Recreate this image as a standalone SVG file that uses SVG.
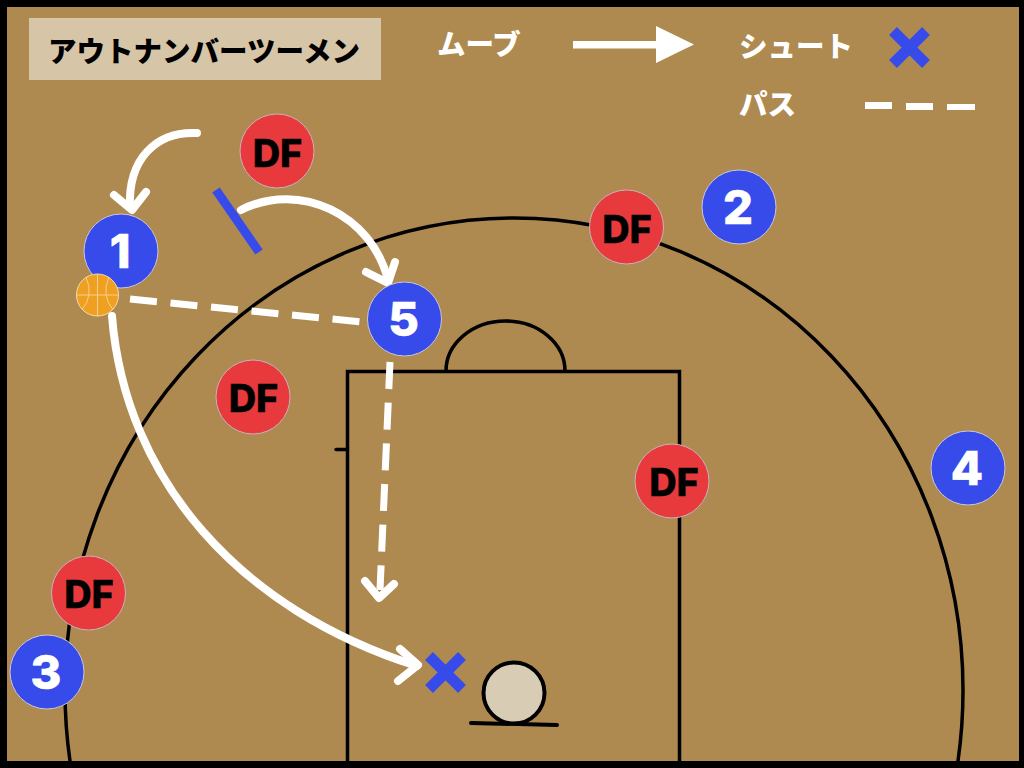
<svg xmlns="http://www.w3.org/2000/svg" width="1024" height="768" viewBox="0 0 1024 768">
<style>
.court{fill:none;stroke:#000;stroke-width:3.500;stroke-linecap:round}
.move{fill:none;stroke:#fff;stroke-width:8;stroke-linecap:round;stroke-linejoin:round}
.pass{fill:none;stroke:#fff;stroke-width:7;stroke-dasharray:27 13.700}
.off{fill:#374beb;stroke:#c9c6d8;stroke-width:1}
.def{fill:#e83a3c;stroke:#c9b0c0;stroke-width:1}
.num{font-family:Inter,"Liberation Sans",sans-serif;font-weight:800;font-size:47px;fill:#fff;stroke:#fff;stroke-width:.6;text-anchor:middle}
.df{font-family:Inter,"Liberation Sans",sans-serif;font-weight:800;font-size:38px;fill:#000;stroke:#000;stroke-width:.4;text-anchor:middle}
.jp{font-family:"Noto Sans CJK JP",sans-serif;font-weight:900;font-size:28.500px;fill:#fff}
.x{stroke:#374beb;stroke-width:11;fill:none}
.seam{fill:none;stroke:#f3dcae;stroke-width:.8}
</style>
<rect width="1024" height="768" fill="#000"/>
<rect x="7" y="7" width="1012" height="754" fill="#af8a50"/>
<g id="court">
<path class="court" d="M70 761A449 472 0 0 1 65 690A449 472 0 0 1 963 690A449 472 0 0 1 958 761"/>
<path class="court" d="M347.500 761V371.500H679.500V761"/>
<path class="court" d="M446 371A59.500 50 0 0 1 565 371"/>
<path class="court" d="M336 449.500H347"/>
<ellipse cx="514" cy="693" rx="30.500" ry="30.500" fill="#d9ccb4" stroke="#000" stroke-width="4"/>
<path class="court" d="M471 723L557 725" style="stroke-width:4"/>
</g>
<g id="title">
<rect x="29" y="18" width="352" height="62" fill="#d6c5a6"/>
<text x="204" y="62" text-anchor="middle" font-family="Noto Sans CJK JP,sans-serif" font-weight="900" font-size="28.500" fill="#000">アウトナンバーツーメン</text>
</g>
<g id="legend">
<text class="jp" x="437" y="55">ムーブ</text>
<path d="M573 41H656V26L694 44.500L656 63V48.500H573Z" fill="#fff"/>
<text class="jp" x="739" y="57">シュート</text>
<path class="x" d="M893 31L926 64M926 31L893 64"/>
<text class="jp" x="739" y="115">パス</text>
<path d="M865 102H892V109H865ZM906 103H933V110H906ZM947 104H975V110H947Z" fill="#fff"/>
</g>
<g id="connectors">
<path class="move" d="M197 133C155 131 128 160 130 207"/>
<path class="move" d="M114 195L132 210L146 192"/>
<path class="move" d="M241 210C300 180 372 215 388 280"/>
<path class="move" d="M366 272L388 283L395 262"/>
<path class="pass" d="M390 362L380 590"/>
<path class="pass" d="M130 299L363 322"/>
<path class="move" d="M365 581L379 598L394 584"/>
<path class="move" d="M112 316C125 480 240 610 417 666"/>
<path class="move" d="M400 649L418 665L398 681"/>
<path d="M216 190L259 252" stroke="#374beb" stroke-width="9" fill="none"/>
<path class="x" d="M429 656L462 689M462 656L429 689"/>
</g>
<g id="node-df1"><circle class="def" cx="277" cy="151" r="37"/><text class="df" x="277.500" y="167">DF</text></g>
<g id="node-df2"><circle class="def" cx="626.500" cy="227" r="37"/><text class="df" x="627" y="243">DF</text></g>
<g id="node-df3"><circle class="def" cx="253" cy="397" r="37"/><text class="df" x="253.500" y="412">DF</text></g>
<g id="node-df4"><circle class="def" cx="672" cy="481" r="37"/><text class="df" x="674" y="496">DF</text></g>
<g id="node-df5"><circle class="def" cx="88.500" cy="593" r="37"/><text class="df" x="89" y="608">DF</text></g>
<g id="node-1"><circle class="off" cx="121" cy="251" r="37"/><text class="num" x="120" y="268">1</text></g>
<g id="node-2"><circle class="off" cx="739" cy="207" r="37"/><text class="num" x="738" y="224">2</text></g>
<g id="node-3"><circle class="off" cx="47" cy="672" r="37"/><text class="num" x="46" y="689">3</text></g>
<g id="node-4"><circle class="off" cx="968" cy="468" r="37"/><text class="num" x="967" y="485">4</text></g>
<g id="node-5"><circle class="off" cx="404.500" cy="319" r="37"/><text class="num" x="403.500" y="336">5</text></g>
<g id="ball">
<circle cx="97.500" cy="295" r="21" fill="#f0a020" stroke="#f3dcae" stroke-width="1"/>
<path class="seam" d="M76.500 295H118.500M97.500 274V316M86 277Q94 295 82 310M109 277Q101 295 113 310"/>
</g>
</svg>
